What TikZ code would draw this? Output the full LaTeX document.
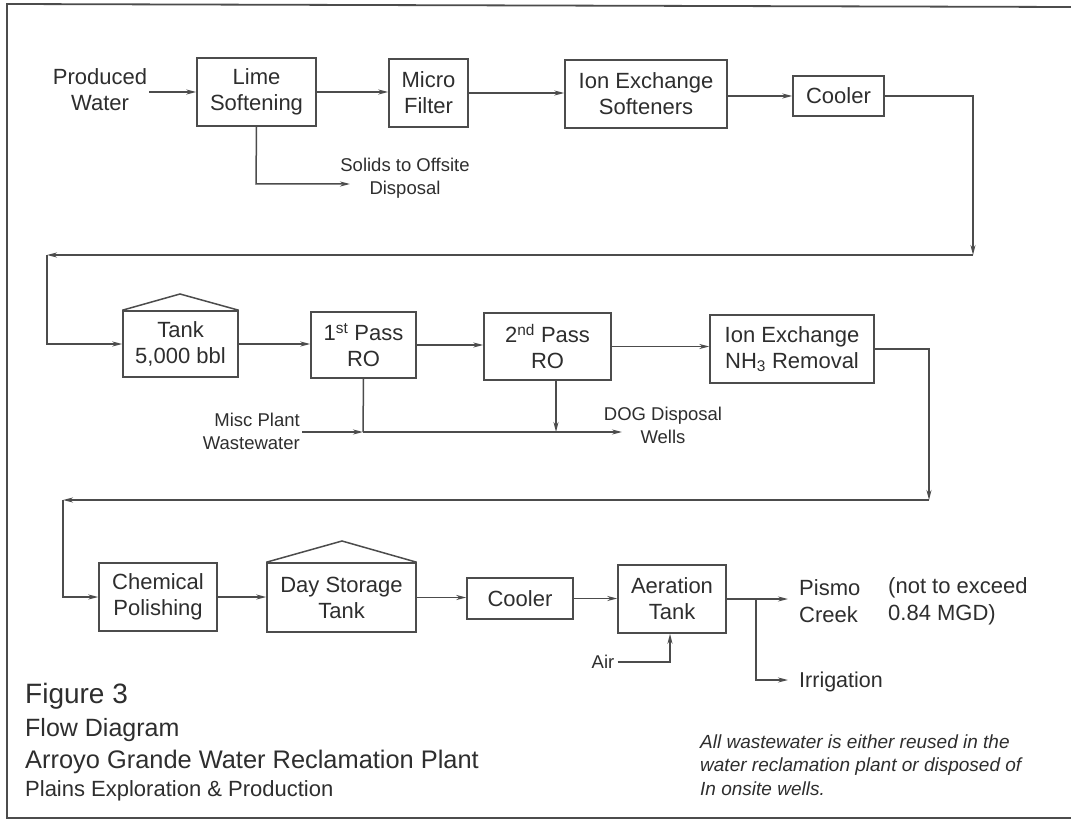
\documentclass[tikz,border=0pt]{standalone}
\usepackage{fontspec}
\setmainfont{Liberation Sans}
\usetikzlibrary{arrows.meta,calc}
\definecolor{ink}{HTML}{4C4C4C}
\definecolor{txt}{HTML}{2E2E2E}
\begin{document}
\begin{tikzpicture}[x=1pt,y=-1pt,
  box/.style={draw=ink,line width=1.5pt,inner sep=0pt,align=center,text=txt,font=\fontsize{22}{26}\selectfont},
  lbl/.style={inner sep=0pt,text=txt,font=\fontsize{18.5}{23}\selectfont},
  big/.style={inner sep=0pt,text=txt,anchor=base west},
  flow/.style={draw=ink,line width=1.5pt,-{Stealth[length=10pt,width=5pt]}},
  pipe/.style={draw=ink,line width=1.5pt},
  roof/.style={draw=ink,line width=1.5pt},
  frame/.style={draw=ink,line width=1.8pt}
]
\useasboundingbox (0,0) rectangle (1071,821);
\fill[white] (0,0) rectangle (1071,821);
% frame
\draw[frame] (1071,7) -- (7,4) -- (7,818) -- (1071,818);

% row 1
\node[lbl,align=center,font=\fontsize{22}{26}\selectfont] (prod) at (100,90) {Produced\\Water};
\node[box,minimum width=119pt,minimum height=68pt] (lime) at (256.5,92) {Lime\\Softening};
\node[box,minimum width=79pt,minimum height=68pt] (micro) at (428.5,93) {Micro\\Filter};
\node[box,minimum width=162pt,minimum height=68pt] (ionsoft) at (646,94) {Ion Exchange\\Softeners};
\node[box,minimum width=91pt,minimum height=40pt] (cool1) at (838.5,96) {Cooler};
\node[lbl,align=center] (solids) at (405,178) {Solids to Offsite\\Disposal};

\draw[flow] (prod.east |- lime.west) ++(2,0) -- (lime.west);
\draw[flow] (lime.east) -- (lime.east -| micro.west);
\draw[flow] (micro.east) -- (micro.east -| ionsoft.west);
\draw[flow] (ionsoft.east) ++(0,2) -- ($(ionsoft.east -| cool1.west)+(0,2)$);
\coordinate (l1) at (256,184);
\coordinate (l2) at (350,184);
\draw[flow] (lime.south) -- (l1) -- (l2);

% loop 1
\coordinate (c1) at (973,96);
\coordinate (c2) at (973,255);
\coordinate (c3) at (47,255);
\coordinate (c4) at (47,344);
\draw[flow] (cool1.east) -- (c1) -- (c2);
\draw[flow] (c2) -- (c3);

% row 2
\node[box,minimum width=115pt,minimum height=66pt] (tank) at (180.5,344) {Tank\\5,000 bbl};
\node[box,minimum width=105pt,minimum height=66pt] (pass1) at (363.5,345) {1\textsuperscript{st} Pass\\RO};
\node[box,minimum width=127pt,minimum height=67pt] (pass2) at (547.5,346.5) {2\textsuperscript{nd} Pass\\RO};
\node[box,minimum width=164pt,minimum height=68pt] (nh3) at (792,349) {Ion Exchange\\NH\textsubscript{3} Removal};
\draw[roof] (tank.north west) -- (180,294) -- (tank.north east);

\draw[flow] (c3) -- (c4) -- (c4 -| tank.west);
\draw[flow] (tank.east) -- (tank.east -| pass1.west);
\draw[flow] (pass1.east) -- (pass1.east -| pass2.west);
\draw[flow] (pass2.east) -- (pass2.east -| nh3.west);

\node[lbl,align=right,anchor=east] (misc) at (300,431) {Misc Plant\\Wastewater};
\node[lbl,align=center] (dog) at (663,425) {DOG Disposal\\Wells};
\coordinate (j1) at (363,432);
\coordinate (j2) at (556,432);
\coordinate (j3) at (622,432);
\draw[pipe] (pass1.south) -- (j1);
\draw[flow] ($(misc.east |- j1)+(2,0)$) -- (j1);
\draw[flow] (j1) -- (j3);
\draw[flow] (j2 |- pass2.south) -- (j2);

% loop 2
\coordinate (d1) at (929,349);
\coordinate (d2) at (929,500);
\coordinate (d3) at (63,500);
\coordinate (d4) at (63,597);
\draw[flow] (nh3.east) -- (d1) -- (d2);
\draw[flow] (d2) -- (d3);

% row 3
\node[box,minimum width=118pt,minimum height=68pt] (chem) at (158,597) {Chemical\\Polishing};
\node[box,minimum width=149pt,minimum height=69pt] (day) at (341.5,597.5) {Day Storage\\Tank};
\node[box,minimum width=106pt,minimum height=41pt] (cool2) at (520,598.5) {Cooler};
\node[box,minimum width=108pt,minimum height=68pt] (aer) at (672,599) {Aeration\\Tank};
\draw[roof] (day.north west) -- (342,541) -- (day.north east);

\draw[flow] (d3) -- (d4) -- (d4 -| chem.west);
\draw[flow] (chem.east) -- (chem.east -| day.west);
\draw[flow] (day.east) -- (day.east -| cool2.west);
\draw[flow] (cool2.east) -- (cool2.east -| aer.west);

\node[lbl] (air) at (603,662) {Air};
\coordinate (a1) at (670,662);
\draw[flow] (air.east) ++(3,0) -- (a1) -- (a1 |- aer.south);

\node[lbl,align=left,anchor=west,font=\fontsize{22}{27}\selectfont] (pismo) at (799,601) {Pismo\\Creek};
\node[lbl,align=left,anchor=west,font=\fontsize{22}{27}\selectfont] (limit) at (888,601) {(not to exceed\\0.84 MGD)};
\node[lbl,anchor=west,font=\fontsize{21.5}{26}\selectfont] (irr) at (799,682) {Irrigation};
\coordinate (b1) at (756,599);
\coordinate (b2) at (756,680);
\coordinate (p1) at (788,599);
\coordinate (p2) at (788,680);
\draw[flow] (aer.east) -- (p1);
\draw[flow] (b1) -- (b2) -- (p2);

% captions
\node[big,font=\fontsize{28}{32}\selectfont] (fig) at (25,703) {Figure 3};
\node[big,font=\fontsize{25}{29}\selectfont] (flowd) at (25,736) {Flow Diagram};
\node[big,font=\fontsize{25.4}{29}\selectfont] (arroyo) at (25,768) {Arroyo Grande Water Reclamation Plant};
\node[big,font=\fontsize{22}{26}\selectfont] (plains) at (25,796) {Plains Exploration \& Production};
\node[lbl,align=left,anchor=west,font=\fontsize{19}{23.5}\selectfont\itshape] (note) at (700,765) {All wastewater is either reused in the\\water reclamation plant or disposed of\\In onsite wells.};
\end{tikzpicture}
\end{document}
